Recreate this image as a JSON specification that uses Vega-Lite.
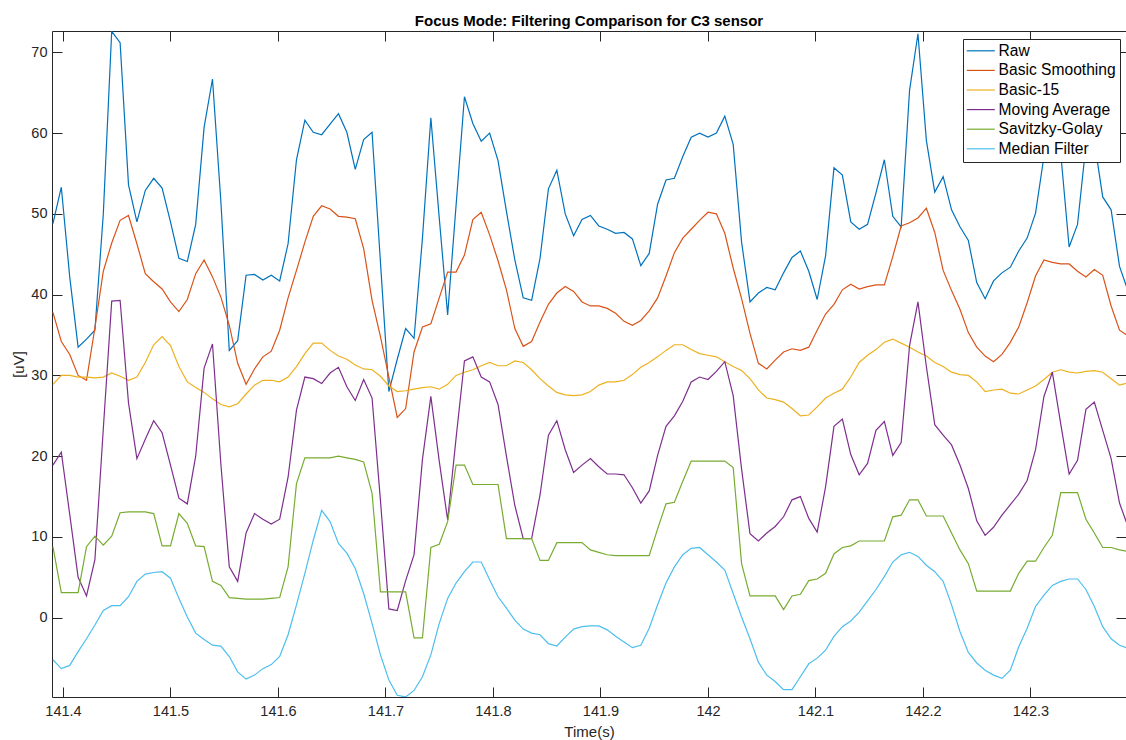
{
  "$schema": "https://vega.github.io/schema/vega-lite/v6.json",
  "width": 1074,
  "height": 666,
  "autosize": {"type": "none"},
  "padding": {"left": 52, "top": 31, "right": 0, "bottom": 43},
  "background": "white",
  "title": {
    "text": "Focus Mode: Filtering Comparison for C3 sensor",
    "font": "Liberation Sans",
    "fontSize": 15,
    "fontWeight": "bold",
    "color": "#000000",
    "anchor": "middle",
    "frame": "group",
    "baseline": "alphabetic",
    "offset": -10
  },
  "data": {
    "values": [
      {"t": 141.390625, "Raw": 48.8, "Basic Smoothing": 37.8, "Basic-15": 28.9, "Moving Average": 18.9, "Savitzky-Golay": 8.8, "Median Filter": -5.2},
      {"t": 141.3984375, "Raw": 53.3, "Basic Smoothing": 34.2, "Basic-15": 30.0, "Moving Average": 20.5, "Savitzky-Golay": 3.1, "Median Filter": -6.3},
      {"t": 141.40625, "Raw": 42.2, "Basic Smoothing": 32.6, "Basic-15": 30.0, "Moving Average": 12.8, "Savitzky-Golay": 3.1, "Median Filter": -5.9},
      {"t": 141.4140625, "Raw": 33.5, "Basic Smoothing": 30.0, "Basic-15": 29.8, "Moving Average": 5.0, "Savitzky-Golay": 3.1, "Median Filter": -4.2},
      {"t": 141.421875, "Raw": 34.5, "Basic Smoothing": 29.4, "Basic-15": 29.8, "Moving Average": 2.7, "Savitzky-Golay": 8.8, "Median Filter": -2.6},
      {"t": 141.4296875, "Raw": 35.6, "Basic Smoothing": 35.9, "Basic-15": 29.7, "Moving Average": 7.2, "Savitzky-Golay": 10.1, "Median Filter": -0.9},
      {"t": 141.4375, "Raw": 50.0, "Basic Smoothing": 42.9, "Basic-15": 29.8, "Moving Average": 23.4, "Savitzky-Golay": 9.0, "Median Filter": 0.9},
      {"t": 141.4453125, "Raw": 72.6, "Basic Smoothing": 46.4, "Basic-15": 30.3, "Moving Average": 39.2, "Savitzky-Golay": 10.1, "Median Filter": 1.5},
      {"t": 141.453125, "Raw": 71.2, "Basic Smoothing": 49.2, "Basic-15": 29.9, "Moving Average": 39.3, "Savitzky-Golay": 13.0, "Median Filter": 1.5},
      {"t": 141.4609375, "Raw": 53.6, "Basic Smoothing": 49.8, "Basic-15": 29.4, "Moving Average": 26.6, "Savitzky-Golay": 13.1, "Median Filter": 2.6},
      {"t": 141.46875, "Raw": 49.0, "Basic Smoothing": 46.3, "Basic-15": 29.8, "Moving Average": 19.7, "Savitzky-Golay": 13.1, "Median Filter": 4.5},
      {"t": 141.4765625, "Raw": 52.9, "Basic Smoothing": 42.6, "Basic-15": 31.6, "Moving Average": 22.1, "Savitzky-Golay": 13.1, "Median Filter": 5.4},
      {"t": 141.484375, "Raw": 54.4, "Basic Smoothing": 41.6, "Basic-15": 33.8, "Moving Average": 24.4, "Savitzky-Golay": 12.9, "Median Filter": 5.6},
      {"t": 141.4921875, "Raw": 53.2, "Basic Smoothing": 40.7, "Basic-15": 34.8, "Moving Average": 22.9, "Savitzky-Golay": 8.9, "Median Filter": 5.7},
      {"t": 141.5, "Raw": 49.0, "Basic Smoothing": 39.1, "Basic-15": 33.7, "Moving Average": 18.9, "Savitzky-Golay": 8.9, "Median Filter": 4.9},
      {"t": 141.5078125, "Raw": 44.5, "Basic Smoothing": 37.9, "Basic-15": 31.1, "Moving Average": 14.8, "Savitzky-Golay": 12.9, "Median Filter": 2.4},
      {"t": 141.515625, "Raw": 44.1, "Basic Smoothing": 39.4, "Basic-15": 29.2, "Moving Average": 14.1, "Savitzky-Golay": 11.7, "Median Filter": 0.1},
      {"t": 141.5234375, "Raw": 48.7, "Basic Smoothing": 42.6, "Basic-15": 28.5, "Moving Average": 20.0, "Savitzky-Golay": 8.9, "Median Filter": -1.9},
      {"t": 141.53125, "Raw": 60.7, "Basic Smoothing": 44.3, "Basic-15": 27.9, "Moving Average": 30.9, "Savitzky-Golay": 8.8, "Median Filter": -2.7},
      {"t": 141.5390625, "Raw": 66.7, "Basic Smoothing": 42.2, "Basic-15": 27.1, "Moving Average": 33.9, "Savitzky-Golay": 4.5, "Median Filter": -3.4},
      {"t": 141.546875, "Raw": 51.5, "Basic Smoothing": 39.7, "Basic-15": 26.4, "Moving Average": 19.0, "Savitzky-Golay": 4.0, "Median Filter": -3.5},
      {"t": 141.5546875, "Raw": 33.1, "Basic Smoothing": 36.2, "Basic-15": 26.1, "Moving Average": 6.3, "Savitzky-Golay": 2.5, "Median Filter": -4.8},
      {"t": 141.5625, "Raw": 34.3, "Basic Smoothing": 31.5, "Basic-15": 26.5, "Moving Average": 4.5, "Savitzky-Golay": 2.4, "Median Filter": -6.7},
      {"t": 141.5703125, "Raw": 42.4, "Basic Smoothing": 28.9, "Basic-15": 27.7, "Moving Average": 10.5, "Savitzky-Golay": 2.3, "Median Filter": -7.6},
      {"t": 141.578125, "Raw": 42.5, "Basic Smoothing": 30.8, "Basic-15": 28.8, "Moving Average": 12.9, "Savitzky-Golay": 2.3, "Median Filter": -7.1},
      {"t": 141.5859375, "Raw": 41.8, "Basic Smoothing": 32.3, "Basic-15": 29.4, "Moving Average": 12.2, "Savitzky-Golay": 2.3, "Median Filter": -6.3},
      {"t": 141.59375, "Raw": 42.4, "Basic Smoothing": 33.0, "Basic-15": 29.4, "Moving Average": 11.6, "Savitzky-Golay": 2.4, "Median Filter": -5.8},
      {"t": 141.6015625, "Raw": 41.7, "Basic Smoothing": 35.6, "Basic-15": 29.2, "Moving Average": 12.2, "Savitzky-Golay": 2.5, "Median Filter": -4.8},
      {"t": 141.609375, "Raw": 46.3, "Basic Smoothing": 39.6, "Basic-15": 29.8, "Moving Average": 17.4, "Savitzky-Golay": 6.3, "Median Filter": -2.1},
      {"t": 141.6171875, "Raw": 56.7, "Basic Smoothing": 43.0, "Basic-15": 31.1, "Moving Average": 25.7, "Savitzky-Golay": 16.6, "Median Filter": 1.6},
      {"t": 141.625, "Raw": 61.6, "Basic Smoothing": 46.5, "Basic-15": 32.7, "Moving Average": 29.8, "Savitzky-Golay": 19.8, "Median Filter": 5.5},
      {"t": 141.6328125, "Raw": 60.1, "Basic Smoothing": 49.7, "Basic-15": 34.0, "Moving Average": 29.6, "Savitzky-Golay": 19.8, "Median Filter": 9.6},
      {"t": 141.640625, "Raw": 59.8, "Basic Smoothing": 51.0, "Basic-15": 34.0, "Moving Average": 29.0, "Savitzky-Golay": 19.8, "Median Filter": 13.3},
      {"t": 141.6484375, "Raw": 61.1, "Basic Smoothing": 50.6, "Basic-15": 33.1, "Moving Average": 30.3, "Savitzky-Golay": 19.8, "Median Filter": 11.9},
      {"t": 141.65625, "Raw": 62.4, "Basic Smoothing": 49.7, "Basic-15": 32.4, "Moving Average": 31.0, "Savitzky-Golay": 20.0, "Median Filter": 9.2},
      {"t": 141.6640625, "Raw": 60.1, "Basic Smoothing": 49.6, "Basic-15": 32.0, "Moving Average": 28.6, "Savitzky-Golay": 19.8, "Median Filter": 8.0},
      {"t": 141.671875, "Raw": 55.5, "Basic Smoothing": 49.4, "Basic-15": 31.3, "Moving Average": 26.9, "Savitzky-Golay": 19.6, "Median Filter": 6.1},
      {"t": 141.6796875, "Raw": 59.2, "Basic Smoothing": 45.7, "Basic-15": 30.8, "Moving Average": 29.5, "Savitzky-Golay": 19.3, "Median Filter": 3.0},
      {"t": 141.6875, "Raw": 60.1, "Basic Smoothing": 39.3, "Basic-15": 30.7, "Moving Average": 27.2, "Savitzky-Golay": 15.4, "Median Filter": -0.7},
      {"t": 141.6953125, "Raw": 44.0, "Basic Smoothing": 34.8, "Basic-15": 29.9, "Moving Average": 14.5, "Savitzky-Golay": 3.2, "Median Filter": -4.6},
      {"t": 141.703125, "Raw": 28.0, "Basic Smoothing": 29.8, "Basic-15": 28.7, "Moving Average": 1.1, "Savitzky-Golay": 3.2, "Median Filter": -7.7},
      {"t": 141.7109375, "Raw": 32.0, "Basic Smoothing": 24.8, "Basic-15": 28.0, "Moving Average": 0.9, "Savitzky-Golay": 3.2, "Median Filter": -9.6},
      {"t": 141.71875, "Raw": 35.8, "Basic Smoothing": 25.9, "Basic-15": 28.1, "Moving Average": 4.6, "Savitzky-Golay": 3.2, "Median Filter": -9.8},
      {"t": 141.7265625, "Raw": 34.6, "Basic Smoothing": 32.9, "Basic-15": 28.3, "Moving Average": 7.8, "Savitzky-Golay": -2.5, "Median Filter": -9.0},
      {"t": 141.734375, "Raw": 47.0, "Basic Smoothing": 36.0, "Basic-15": 28.5, "Moving Average": 19.6, "Savitzky-Golay": -2.5, "Median Filter": -7.3},
      {"t": 141.7421875, "Raw": 61.9, "Basic Smoothing": 36.4, "Basic-15": 28.6, "Moving Average": 27.4, "Savitzky-Golay": 8.7, "Median Filter": -4.6},
      {"t": 141.75, "Raw": 49.5, "Basic Smoothing": 39.6, "Basic-15": 28.3, "Moving Average": 19.4, "Savitzky-Golay": 9.1, "Median Filter": -0.7},
      {"t": 141.7578125, "Raw": 37.5, "Basic Smoothing": 42.8, "Basic-15": 28.9, "Moving Average": 12.1, "Savitzky-Golay": 11.9, "Median Filter": 2.4},
      {"t": 141.765625, "Raw": 51.0, "Basic Smoothing": 42.8, "Basic-15": 30.0, "Moving Average": 22.2, "Savitzky-Golay": 18.9, "Median Filter": 4.3},
      {"t": 141.7734375, "Raw": 64.5, "Basic Smoothing": 44.9, "Basic-15": 30.4, "Moving Average": 31.8, "Savitzky-Golay": 18.9, "Median Filter": 5.7},
      {"t": 141.78125, "Raw": 61.2, "Basic Smoothing": 49.3, "Basic-15": 30.7, "Moving Average": 32.3, "Savitzky-Golay": 16.5, "Median Filter": 6.9},
      {"t": 141.7890625, "Raw": 59.0, "Basic Smoothing": 50.2, "Basic-15": 31.2, "Moving Average": 29.8, "Savitzky-Golay": 16.5, "Median Filter": 6.9},
      {"t": 141.796875, "Raw": 60.0, "Basic Smoothing": 47.4, "Basic-15": 31.6, "Moving Average": 29.2, "Savitzky-Golay": 16.5, "Median Filter": 4.7},
      {"t": 141.8046875, "Raw": 56.6, "Basic Smoothing": 44.2, "Basic-15": 31.2, "Moving Average": 26.4, "Savitzky-Golay": 16.5, "Median Filter": 2.6},
      {"t": 141.8125, "Raw": 50.3, "Basic Smoothing": 40.6, "Basic-15": 31.2, "Moving Average": 20.0, "Savitzky-Golay": 9.8, "Median Filter": 1.2},
      {"t": 141.8203125, "Raw": 44.3, "Basic Smoothing": 35.8, "Basic-15": 31.8, "Moving Average": 13.9, "Savitzky-Golay": 9.8, "Median Filter": -0.3},
      {"t": 141.828125, "Raw": 39.6, "Basic Smoothing": 33.6, "Basic-15": 31.6, "Moving Average": 9.8, "Savitzky-Golay": 9.8, "Median Filter": -1.4},
      {"t": 141.8359375, "Raw": 39.3, "Basic Smoothing": 34.2, "Basic-15": 30.7, "Moving Average": 9.8, "Savitzky-Golay": 9.8, "Median Filter": -1.9},
      {"t": 141.84375, "Raw": 44.5, "Basic Smoothing": 36.6, "Basic-15": 29.6, "Moving Average": 15.2, "Savitzky-Golay": 7.1, "Median Filter": -2.1},
      {"t": 141.8515625, "Raw": 53.1, "Basic Smoothing": 38.8, "Basic-15": 28.7, "Moving Average": 22.6, "Savitzky-Golay": 7.1, "Median Filter": -3.2},
      {"t": 141.859375, "Raw": 55.4, "Basic Smoothing": 40.2, "Basic-15": 27.9, "Moving Average": 24.4, "Savitzky-Golay": 9.3, "Median Filter": -3.5},
      {"t": 141.8671875, "Raw": 50.0, "Basic Smoothing": 41.0, "Basic-15": 27.6, "Moving Average": 20.8, "Savitzky-Golay": 9.3, "Median Filter": -2.4},
      {"t": 141.875, "Raw": 47.3, "Basic Smoothing": 40.4, "Basic-15": 27.5, "Moving Average": 18.0, "Savitzky-Golay": 9.3, "Median Filter": -1.4},
      {"t": 141.8828125, "Raw": 49.3, "Basic Smoothing": 39.1, "Basic-15": 27.6, "Moving Average": 18.9, "Savitzky-Golay": 9.3, "Median Filter": -1.1},
      {"t": 141.890625, "Raw": 49.8, "Basic Smoothing": 38.6, "Basic-15": 28.0, "Moving Average": 19.7, "Savitzky-Golay": 8.4, "Median Filter": -1.0},
      {"t": 141.8984375, "Raw": 48.5, "Basic Smoothing": 38.6, "Basic-15": 28.8, "Moving Average": 18.7, "Savitzky-Golay": 8.1, "Median Filter": -1.0},
      {"t": 141.90625, "Raw": 48.1, "Basic Smoothing": 38.3, "Basic-15": 29.2, "Moving Average": 17.8, "Savitzky-Golay": 7.8, "Median Filter": -1.5},
      {"t": 141.9140625, "Raw": 47.6, "Basic Smoothing": 37.7, "Basic-15": 29.2, "Moving Average": 17.8, "Savitzky-Golay": 7.7, "Median Filter": -2.3},
      {"t": 141.921875, "Raw": 47.7, "Basic Smoothing": 36.7, "Basic-15": 29.4, "Moving Average": 17.7, "Savitzky-Golay": 7.7, "Median Filter": -3.0},
      {"t": 141.9296875, "Raw": 46.9, "Basic Smoothing": 36.2, "Basic-15": 30.1, "Moving Average": 16.1, "Savitzky-Golay": 7.7, "Median Filter": -3.7},
      {"t": 141.9375, "Raw": 43.6, "Basic Smoothing": 36.8, "Basic-15": 31.0, "Moving Average": 14.2, "Savitzky-Golay": 7.7, "Median Filter": -3.4},
      {"t": 141.9453125, "Raw": 45.1, "Basic Smoothing": 38.0, "Basic-15": 31.6, "Moving Average": 15.7, "Savitzky-Golay": 7.7, "Median Filter": -1.3},
      {"t": 141.953125, "Raw": 51.2, "Basic Smoothing": 39.6, "Basic-15": 32.3, "Moving Average": 20.1, "Savitzky-Golay": 11.0, "Median Filter": 1.6},
      {"t": 141.9609375, "Raw": 54.2, "Basic Smoothing": 42.3, "Basic-15": 33.1, "Moving Average": 23.7, "Savitzky-Golay": 14.1, "Median Filter": 4.3},
      {"t": 141.96875, "Raw": 54.4, "Basic Smoothing": 45.2, "Basic-15": 33.8, "Moving Average": 25.0, "Savitzky-Golay": 14.3, "Median Filter": 6.3},
      {"t": 141.9765625, "Raw": 57.1, "Basic Smoothing": 47.0, "Basic-15": 33.8, "Moving Average": 26.8, "Savitzky-Golay": 16.9, "Median Filter": 7.8},
      {"t": 141.984375, "Raw": 59.5, "Basic Smoothing": 48.1, "Basic-15": 33.2, "Moving Average": 29.2, "Savitzky-Golay": 19.4, "Median Filter": 8.6},
      {"t": 141.9921875, "Raw": 60.0, "Basic Smoothing": 49.2, "Basic-15": 32.7, "Moving Average": 29.8, "Savitzky-Golay": 19.4, "Median Filter": 8.7},
      {"t": 142.0, "Raw": 59.5, "Basic Smoothing": 50.2, "Basic-15": 32.5, "Moving Average": 29.5, "Savitzky-Golay": 19.4, "Median Filter": 7.8},
      {"t": 142.0078125, "Raw": 60.0, "Basic Smoothing": 50.0, "Basic-15": 32.3, "Moving Average": 30.5, "Savitzky-Golay": 19.4, "Median Filter": 6.9},
      {"t": 142.015625, "Raw": 62.1, "Basic Smoothing": 47.6, "Basic-15": 31.7, "Moving Average": 31.7, "Savitzky-Golay": 19.4, "Median Filter": 5.9},
      {"t": 142.0234375, "Raw": 58.6, "Basic Smoothing": 43.3, "Basic-15": 31.1, "Moving Average": 27.5, "Savitzky-Golay": 18.6, "Median Filter": 3.0},
      {"t": 142.03125, "Raw": 46.5, "Basic Smoothing": 39.5, "Basic-15": 30.6, "Moving Average": 18.4, "Savitzky-Golay": 6.7, "Median Filter": 0.1},
      {"t": 142.0390625, "Raw": 39.1, "Basic Smoothing": 35.2, "Basic-15": 29.6, "Moving Average": 10.4, "Savitzky-Golay": 2.7, "Median Filter": -2.6},
      {"t": 142.046875, "Raw": 40.2, "Basic Smoothing": 31.5, "Basic-15": 28.2, "Moving Average": 9.5, "Savitzky-Golay": 2.7, "Median Filter": -5.5},
      {"t": 142.0546875, "Raw": 40.9, "Basic Smoothing": 30.8, "Basic-15": 27.2, "Moving Average": 10.5, "Savitzky-Golay": 2.7, "Median Filter": -7.1},
      {"t": 142.0625, "Raw": 40.6, "Basic Smoothing": 31.9, "Basic-15": 27.0, "Moving Average": 11.3, "Savitzky-Golay": 2.7, "Median Filter": -7.9},
      {"t": 142.0703125, "Raw": 42.7, "Basic Smoothing": 32.9, "Basic-15": 26.7, "Moving Average": 12.5, "Savitzky-Golay": 1.0, "Median Filter": -8.9},
      {"t": 142.078125, "Raw": 44.6, "Basic Smoothing": 33.3, "Basic-15": 25.9, "Moving Average": 14.6, "Savitzky-Golay": 2.7, "Median Filter": -8.9},
      {"t": 142.0859375, "Raw": 45.4, "Basic Smoothing": 33.1, "Basic-15": 25.0, "Moving Average": 15.0, "Savitzky-Golay": 2.9, "Median Filter": -7.3},
      {"t": 142.09375, "Raw": 42.9, "Basic Smoothing": 33.5, "Basic-15": 25.1, "Moving Average": 12.3, "Savitzky-Golay": 4.6, "Median Filter": -5.7},
      {"t": 142.1015625, "Raw": 39.4, "Basic Smoothing": 35.6, "Basic-15": 26.1, "Moving Average": 10.6, "Savitzky-Golay": 4.8, "Median Filter": -5.0},
      {"t": 142.109375, "Raw": 44.8, "Basic Smoothing": 37.6, "Basic-15": 27.2, "Moving Average": 16.2, "Savitzky-Golay": 5.5, "Median Filter": -4.0},
      {"t": 142.1171875, "Raw": 55.7, "Basic Smoothing": 38.8, "Basic-15": 27.8, "Moving Average": 23.7, "Savitzky-Golay": 7.9, "Median Filter": -2.3},
      {"t": 142.125, "Raw": 54.8, "Basic Smoothing": 40.6, "Basic-15": 28.3, "Moving Average": 24.6, "Savitzky-Golay": 8.7, "Median Filter": -1.1},
      {"t": 142.1328125, "Raw": 49.0, "Basic Smoothing": 41.3, "Basic-15": 29.8, "Moving Average": 20.2, "Savitzky-Golay": 8.9, "Median Filter": -0.4},
      {"t": 142.140625, "Raw": 48.1, "Basic Smoothing": 40.7, "Basic-15": 31.6, "Moving Average": 17.7, "Savitzky-Golay": 9.5, "Median Filter": 0.7},
      {"t": 142.1484375, "Raw": 48.7, "Basic Smoothing": 41.0, "Basic-15": 32.5, "Moving Average": 19.1, "Savitzky-Golay": 9.5, "Median Filter": 2.1},
      {"t": 142.15625, "Raw": 52.6, "Basic Smoothing": 41.2, "Basic-15": 33.2, "Moving Average": 23.2, "Savitzky-Golay": 9.5, "Median Filter": 3.5},
      {"t": 142.1640625, "Raw": 56.7, "Basic Smoothing": 41.2, "Basic-15": 34.1, "Moving Average": 24.3, "Savitzky-Golay": 9.5, "Median Filter": 5.1},
      {"t": 142.171875, "Raw": 49.7, "Basic Smoothing": 44.7, "Basic-15": 34.5, "Moving Average": 20.1, "Savitzky-Golay": 12.5, "Median Filter": 6.9},
      {"t": 142.1796875, "Raw": 48.4, "Basic Smoothing": 48.5, "Basic-15": 34.0, "Moving Average": 21.7, "Savitzky-Golay": 12.7, "Median Filter": 7.8},
      {"t": 142.1875, "Raw": 65.3, "Basic Smoothing": 48.9, "Basic-15": 33.5, "Moving Average": 33.7, "Savitzky-Golay": 14.6, "Median Filter": 8.1},
      {"t": 142.1953125, "Raw": 72.3, "Basic Smoothing": 49.5, "Basic-15": 32.9, "Moving Average": 39.1, "Savitzky-Golay": 14.6, "Median Filter": 7.6},
      {"t": 142.203125, "Raw": 59.1, "Basic Smoothing": 50.7, "Basic-15": 32.4, "Moving Average": 31.1, "Savitzky-Golay": 12.6, "Median Filter": 6.5},
      {"t": 142.2109375, "Raw": 52.7, "Basic Smoothing": 47.7, "Basic-15": 31.6, "Moving Average": 23.9, "Savitzky-Golay": 12.6, "Median Filter": 5.7},
      {"t": 142.21875, "Raw": 54.6, "Basic Smoothing": 43.0, "Basic-15": 31.1, "Moving Average": 22.6, "Savitzky-Golay": 12.6, "Median Filter": 4.5},
      {"t": 142.2265625, "Raw": 50.5, "Basic Smoothing": 40.5, "Basic-15": 30.4, "Moving Average": 21.4, "Savitzky-Golay": 10.5, "Median Filter": 1.6},
      {"t": 142.234375, "Raw": 48.4, "Basic Smoothing": 38.2, "Basic-15": 30.1, "Moving Average": 18.9, "Savitzky-Golay": 8.4, "Median Filter": -1.7},
      {"t": 142.2421875, "Raw": 46.7, "Basic Smoothing": 35.3, "Basic-15": 30.0, "Moving Average": 16.0, "Savitzky-Golay": 6.7, "Median Filter": -4.3},
      {"t": 142.25, "Raw": 41.5, "Basic Smoothing": 33.5, "Basic-15": 29.2, "Moving Average": 12.0, "Savitzky-Golay": 3.3, "Median Filter": -5.6},
      {"t": 142.2578125, "Raw": 39.5, "Basic Smoothing": 32.4, "Basic-15": 28.0, "Moving Average": 10.2, "Savitzky-Golay": 3.3, "Median Filter": -6.5},
      {"t": 142.265625, "Raw": 41.7, "Basic Smoothing": 31.7, "Basic-15": 28.2, "Moving Average": 11.2, "Savitzky-Golay": 3.3, "Median Filter": -7.1},
      {"t": 142.2734375, "Raw": 42.7, "Basic Smoothing": 32.6, "Basic-15": 28.3, "Moving Average": 12.7, "Savitzky-Golay": 3.3, "Median Filter": -7.5},
      {"t": 142.28125, "Raw": 43.4, "Basic Smoothing": 34.1, "Basic-15": 27.8, "Moving Average": 14.0, "Savitzky-Golay": 3.3, "Median Filter": -6.5},
      {"t": 142.2890625, "Raw": 45.4, "Basic Smoothing": 36.0, "Basic-15": 27.7, "Moving Average": 15.3, "Savitzky-Golay": 5.5, "Median Filter": -3.6},
      {"t": 142.296875, "Raw": 47.0, "Basic Smoothing": 39.0, "Basic-15": 28.2, "Moving Average": 17.0, "Savitzky-Golay": 7.0, "Median Filter": -1.3},
      {"t": 142.3046875, "Raw": 50.1, "Basic Smoothing": 42.3, "Basic-15": 28.7, "Moving Average": 20.8, "Savitzky-Golay": 7.0, "Median Filter": 1.4},
      {"t": 142.3125, "Raw": 57.1, "Basic Smoothing": 44.3, "Basic-15": 29.5, "Moving Average": 27.4, "Savitzky-Golay": 8.7, "Median Filter": 2.8},
      {"t": 142.3203125, "Raw": 64.0, "Basic Smoothing": 44.0, "Basic-15": 30.4, "Moving Average": 30.4, "Savitzky-Golay": 10.2, "Median Filter": 4.0},
      {"t": 142.328125, "Raw": 57.5, "Basic Smoothing": 43.8, "Basic-15": 30.7, "Moving Average": 24.0, "Savitzky-Golay": 15.5, "Median Filter": 4.5},
      {"t": 142.3359375, "Raw": 45.9, "Basic Smoothing": 43.8, "Basic-15": 30.4, "Moving Average": 17.8, "Savitzky-Golay": 15.5, "Median Filter": 4.8},
      {"t": 142.34375, "Raw": 48.7, "Basic Smoothing": 42.9, "Basic-15": 30.3, "Moving Average": 19.5, "Savitzky-Golay": 15.5, "Median Filter": 4.8},
      {"t": 142.3515625, "Raw": 58.5, "Basic Smoothing": 42.2, "Basic-15": 30.5, "Moving Average": 25.8, "Savitzky-Golay": 12.2, "Median Filter": 3.5},
      {"t": 142.359375, "Raw": 59.0, "Basic Smoothing": 43.1, "Basic-15": 30.6, "Moving Average": 26.7, "Savitzky-Golay": 10.5, "Median Filter": 1.4},
      {"t": 142.3671875, "Raw": 52.1, "Basic Smoothing": 42.4, "Basic-15": 30.4, "Moving Average": 23.2, "Savitzky-Golay": 8.7, "Median Filter": -1.1},
      {"t": 142.375, "Raw": 50.5, "Basic Smoothing": 38.6, "Basic-15": 29.6, "Moving Average": 19.7, "Savitzky-Golay": 8.7, "Median Filter": -2.6},
      {"t": 142.3828125, "Raw": 43.5, "Basic Smoothing": 35.6, "Basic-15": 28.8, "Moving Average": 14.2, "Savitzky-Golay": 8.4, "Median Filter": -3.4},
      {"t": 142.390625, "Raw": 40.5, "Basic Smoothing": 34.9, "Basic-15": 29.1, "Moving Average": 11.3, "Savitzky-Golay": 8.2, "Median Filter": -3.8}
    ]
  },
  "transform": [
    {"fold": ["Raw", "Basic Smoothing", "Basic-15", "Moving Average", "Savitzky-Golay", "Median Filter"], "as": ["Filter", "uV"]}
  ],
  "layer": [
    {
      "mark": {"type": "line", "strokeWidth": 1.2, "clip": true},
      "encoding": {
        "x": {
          "field": "t",
          "type": "quantitative",
          "scale": {"domain": [141.38977, 142.38884], "nice": false, "zero": false},
          "axis": {
            "orient": "bottom",
            "title": "Time(s)",
            "values": [141.4, 141.5, 141.6, 141.7, 141.8, 141.9, 142, 142.1, 142.2, 142.3],
            "format": "~f",
            "labelPadding": 17,
            "titlePadding": 7
          }
        },
        "y": {
          "field": "uV",
          "type": "quantitative",
          "scale": {"domain": [-9.81, 72.64], "nice": false, "zero": false},
          "axis": {
            "orient": "left",
            "title": "[uV]",
            "values": [0, 10, 20, 30, 40, 50, 60, 70],
            "labelPadding": 15,
            "titlePadding": 4
          }
        },
        "color": {
          "field": "Filter",
          "type": "nominal",
          "scale": {
            "domain": ["Raw", "Basic Smoothing", "Basic-15", "Moving Average", "Savitzky-Golay", "Median Filter"],
            "range": ["#0072BD", "#D95319", "#EDB120", "#7E2F8E", "#77AC30", "#4DBEEE"]
          },
          "legend": {
            "orient": "none",
            "legendX": 911,
            "legendY": 8,
            "title": null,
            "symbolType": "M-2.333,0L2.333,0",
            "symbolSize": 144,
            "symbolOffset": 6,
            "symbolStrokeWidth": 1.2,
            "labelFont": "Liberation Sans",
            "labelFontSize": 15.6,
            "labelColor": "#000000",
            "labelOffset": 10,
            "labelLimit": 0,
            "padding": 4,
            "rowPadding": 2.6,
            "fillColor": "white",
            "strokeColor": "#262626"
          }
        }
      }
    },
    {
      "mark": {"type": "point", "opacity": 0, "clip": true},
      "encoding": {
        "x": {
          "field": "t",
          "type": "quantitative",
          "scale": {"domain": [141.38977, 142.38884], "nice": false, "zero": false},
          "axis": {
            "orient": "top",
            "title": null,
            "labels": false,
            "values": [141.4, 141.5, 141.6, 141.7, 141.8, 141.9, 142, 142.1, 142.2, 142.3]
          }
        },
        "y": {
          "field": "uV",
          "type": "quantitative",
          "scale": {"domain": [-9.81, 72.64], "nice": false, "zero": false},
          "axis": {
            "orient": "right",
            "title": null,
            "labels": false,
            "values": [0, 10, 20, 30, 40, 50, 60, 70]
          }
        }
      }
    }
  ],
  "resolve": {"axis": {"x": "independent", "y": "independent"}},
  "config": {
    "view": {"stroke": "#262626", "strokeWidth": 1},
    "axis": {
      "grid": false,
      "domain": false,
      "ticks": true,
      "tickSize": -10,
      "tickWidth": 1,
      "tickColor": "#262626",
      "labelFont": "Liberation Sans",
      "labelFontSize": 14.5,
      "labelColor": "#262626",
      "titleFont": "Liberation Sans",
      "titleFontSize": 15,
      "titleFontWeight": "normal",
      "titleColor": "#262626"
    }
  }
}
